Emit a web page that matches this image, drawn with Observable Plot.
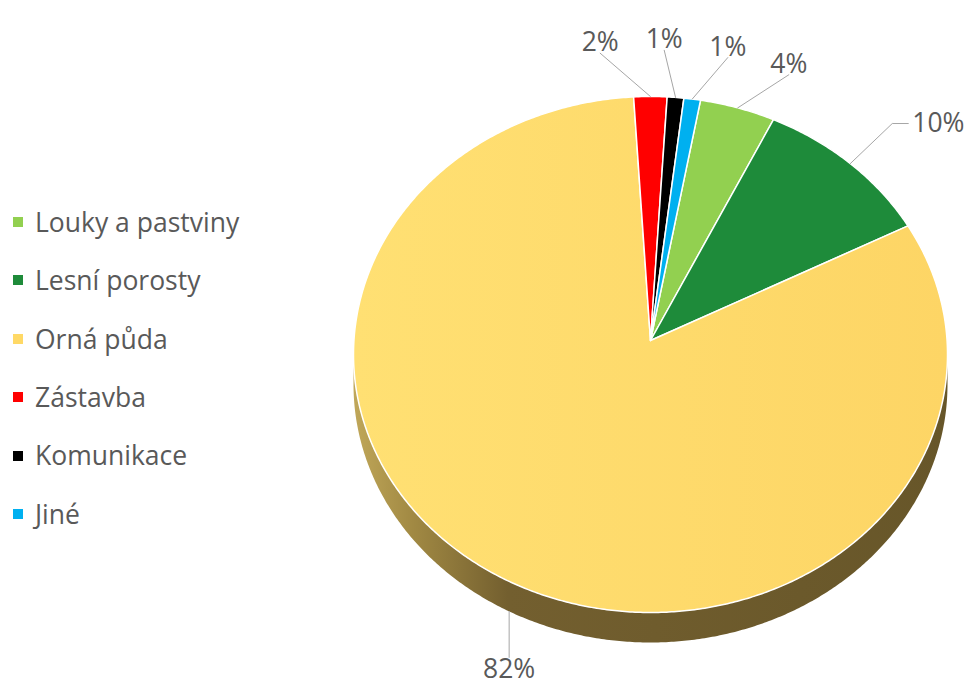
<!DOCTYPE html>
<html><head><meta charset="utf-8">
<script src="https://cdn.jsdelivr.net/npm/d3@7"></script>
<script src="https://cdn.jsdelivr.net/npm/@observablehq/plot@0.6"></script>
<style>
body{margin:0;background:#fff;}
#wrap{position:relative;width:964px;height:691px;font-family:"Open Sans",sans-serif;overflow:hidden;}
#chart{position:absolute;left:0;top:0;}
.item{position:absolute;left:13px;display:flex;align-items:center;white-space:nowrap;color:#595959;font-size:26.5px;line-height:1;}
.sw{width:10px;height:10px;margin-right:12px;flex:none;}
</style></head><body>
<div id="wrap"><div id="chart"></div><div id="legend"></div></div>
<script>
// ---- data ----
const categories = ["Louky a pastviny", "Lesní porosty", "Orná půda", "Zástavba", "Komunikace", "Jiné"];
const shares = [4.1, 9.9, 82.4, 1.8, 0.9, 0.9];
const colors = ["#92d050", "#1e8b3a", "#ffd966", "#ff0000", "#000000", "#00b0f0"];

// ---- layout ----
const W = 964, H = 691;
const CX = 650, CY = 354, RX = 297, RY = 258;   // top face ellipse (px)
const DEPTH = 30, APEX = 14;                      // side depth, perspective apex lift (px)
const START = 9.7;                                // first slice angle (deg, clockwise from top)
const D = DEPTH / RY, A = APEX / RY;
const rad = d => d * Math.PI / 180;

const total = d3.sum(shares);
let acc = START;
const slices = categories.map((name, i) => {
  const s = acc, e = acc + shares[i] / total * 360;
  acc = e;
  return {name, i, s, e, m: (s + e) / 2, label: d3.format(".0%")(shares[i] / total)};
});

// top faces
const topRows = [];
for (const sl of slices) {
  topRows.push({key: sl.name, u: 0, v: A});
  const n = Math.max(2, Math.ceil((sl.e - sl.s) / 0.5));
  for (let k = 0; k <= n; k++) {
    const t = rad(sl.s + (sl.e - sl.s) * k / n);
    topRows.push({key: sl.name, u: Math.sin(t), v: Math.cos(t)});
  }
}
// side walls (front half only: 90..270 deg)
const sideRows = [];
for (const sl of slices) {
  for (const off of [0, 360, -360]) {
    const a = Math.max(sl.s + off, 90), b = Math.min(sl.e + off, 270);
    if (b <= a) continue;
    const n = Math.max(2, Math.ceil((b - a) / 0.5));
    const key = sl.name + off;
    const pts = [];
    for (let k = 0; k <= n; k++) pts.push(rad(a + (b - a) * k / n));
    for (const t of pts) sideRows.push({key, u: Math.sin(t), v: Math.cos(t)});
    for (const t of pts.slice().reverse()) sideRows.push({key, u: Math.sin(t), v: Math.cos(t) - D});
  }
}

// label angles: spread crowded labels apart
const norm = d => ((d + 180) % 360 + 360) % 360 - 180;
const order = slices.map(s => ({sl: s, a: norm(s.m)})).sort((p, q) => p.a - q.a);
const GAP = 10.5;
for (let it = 0; it < 300; it++) {
  for (let k = 0; k < order.length - 1; k++) {
    const g = order[k + 1].a - order[k].a;
    if (g < GAP) { const d = (GAP - g) / 2; order[k].a -= d; order[k + 1].a += d; }
  }
}
const R1 = 1.18, R2 = 1.21, ELB = 16, DROP = 46;
const leaderRows = [], labTop = [], labBot = [], labRight = [], labLeft = [];
for (const {sl, a} of order) {
  const tm = rad(sl.m), ta = rad(a);
  const front = Math.cos(tm) < 0;
  const dep = front ? D : 0;
  const su = Math.sin(tm), sv = Math.cos(tm) - dep;
  leaderRows.push({key: sl.name, u: su, v: sv});
  const sn = Math.sin(ta);
  if (front) {
    // leader drops straight down from the side wall
    const ev = sv - DROP / RY;
    leaderRows.push({key: sl.name, u: su, v: ev});
    labBot.push({u: su, v: ev, text: sl.label});
  } else if (Math.abs(sn) > 0.5) {
    const eu = R2 * sn, ev = R2 * Math.cos(ta);
    const du = Math.sign(sn) * ELB / RX;
    leaderRows.push({key: sl.name, u: eu, v: ev});
    leaderRows.push({key: sl.name, u: eu + du, v: ev});
    (sn > 0 ? labRight : labLeft).push({u: eu + du, v: ev, text: sl.label});
  } else {
    const eu = R1 * sn, ev = R1 * Math.cos(ta);
    leaderRows.push({key: sl.name, u: eu, v: ev});
    labTop.push({u: eu, v: ev, text: sl.label});
  }
}

const fillRange = colors.map((c, i) => categories[i] === "Orná půda" ? "url(#gOrna)" : c);
const txt = {x: "u", y: "v", text: "text", fill: "#595959", fontSize: 26.5, fontFamily: "Open Sans"};

const chart = Plot.plot({
  width: W, height: H, margin: 0,
  x: {domain: [-CX / RX, (W - CX) / RX], range: [0, W], axis: null},
  y: {domain: [(CY - H) / RY, CY / RY], range: [H, 0], axis: null},
  color: {domain: categories, range: fillRange},
  style: {fontFamily: "Open Sans", background: "white", overflow: "visible"},
  marks: [
    Plot.line(sideRows, {x: "u", y: "v", z: "key", fill: "url(#gSide)", stroke: "none", curve: "linear-closed"}),
    Plot.line(topRows, {x: "u", y: "v", z: "key", fill: "key", stroke: "white", strokeWidth: 1.5, strokeLinejoin: "round", curve: "linear-closed"}),
    Plot.line(leaderRows, {x: "u", y: "v", z: "key", stroke: "#a6a6a6", strokeWidth: 1}),
    Plot.text(labTop, {...txt, textAnchor: "middle", lineAnchor: "bottom", dy: -2}),
    Plot.text(labBot, {...txt, textAnchor: "middle", lineAnchor: "top", dy: 2}),
    Plot.text(labRight, {...txt, textAnchor: "start", lineAnchor: "middle", dx: 4}),
    Plot.text(labLeft, {...txt, textAnchor: "end", lineAnchor: "middle", dx: -4})
  ]
});

// gradients
const svg = d3.select(chart);
const defs = svg.insert("defs", ":first-child");
const g1 = defs.append("linearGradient").attr("id", "gSide").attr("gradientUnits", "userSpaceOnUse")
  .attr("x1", CX - RX).attr("x2", CX + RX).attr("y1", 0).attr("y2", 0);
[[0, "#c0a759"], [0.1, "#a18943"], [0.26, "#735f2f"], [1, "#675629"]]
  .forEach(([o, c]) => g1.append("stop").attr("offset", o).attr("stop-color", c));
const g2 = defs.append("linearGradient").attr("id", "gOrna").attr("gradientUnits", "userSpaceOnUse")
  .attr("x1", CX - RX).attr("x2", CX + RX).attr("y1", 0).attr("y2", 0);
[[0, "#ffe073"], [1, "#fdd565"]]
  .forEach(([o, c]) => g2.append("stop").attr("offset", o).attr("stop-color", c));

document.getElementById("chart").appendChild(chart);

// legend
const leg = d3.select("#legend");
categories.forEach((name, i) => {
  const it = leg.append("div").attr("class", "item").style("top", (222 + i * 58.4 - 13) + "px").style("height", "26px");
  it.append("div").attr("class", "sw").style("background", colors[i]);
  it.append("span").text(name);
});
</script>
</body></html>
